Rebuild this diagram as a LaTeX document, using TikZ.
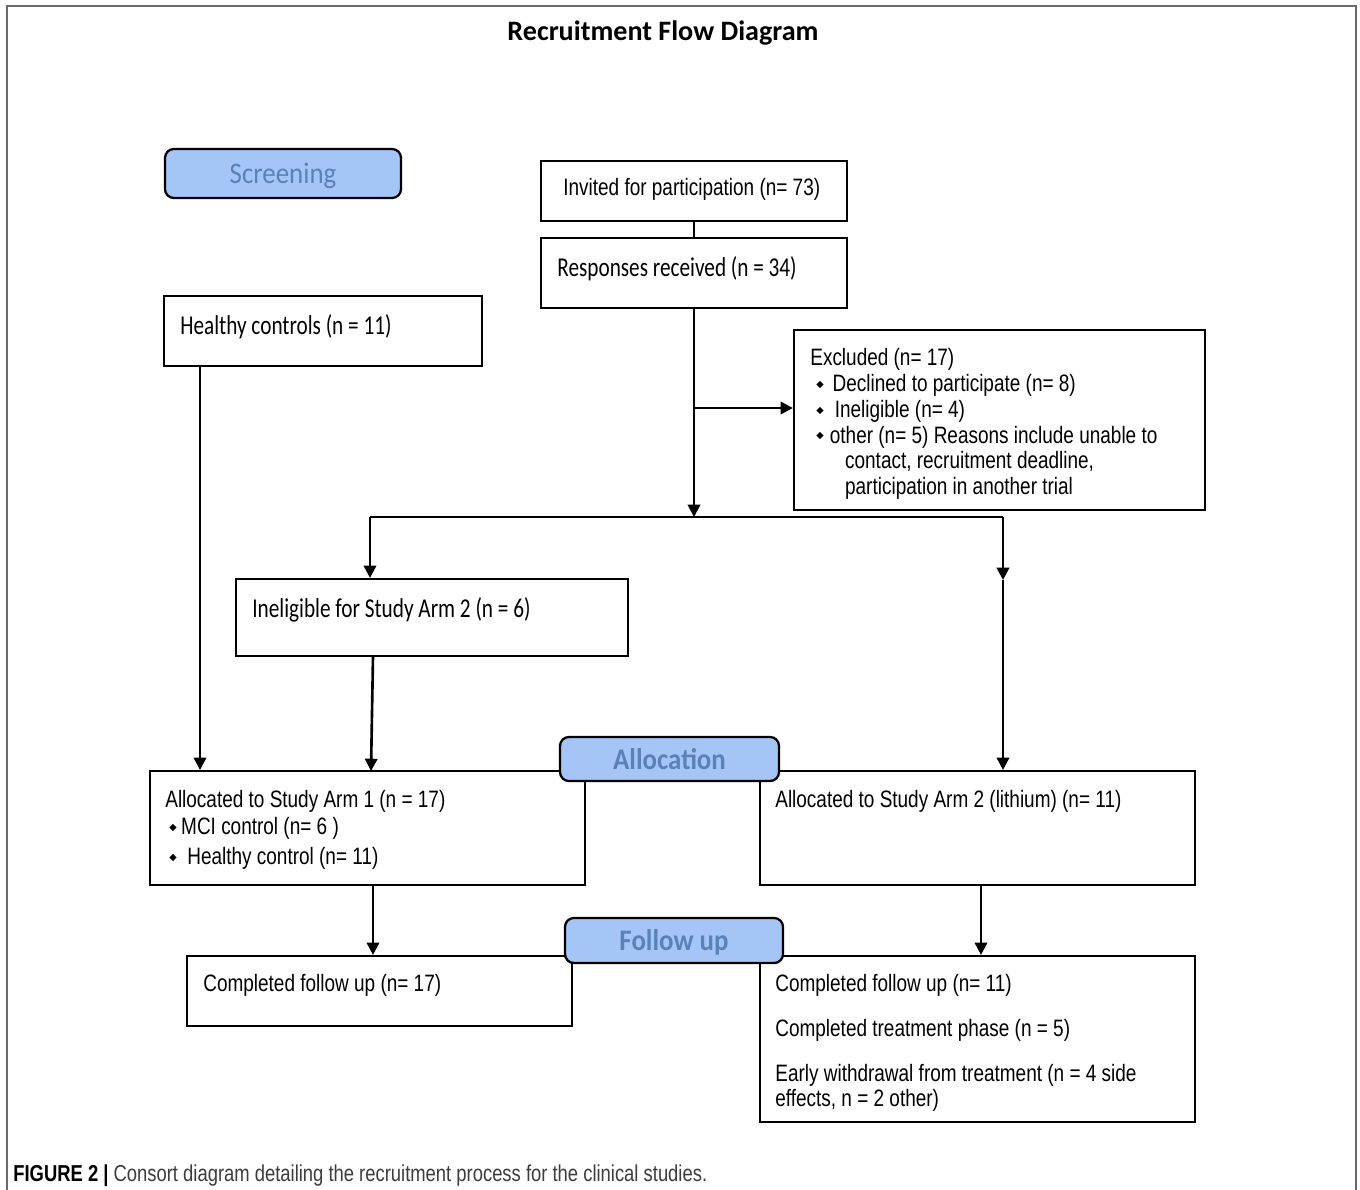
\documentclass[tikz,border=0pt]{standalone}
\usepackage{fontspec}
\setmainfont{Liberation Sans}
\newfontfamily\armfont[FakeStretch=0.8]{Liberation Sans}
\newfontfamily\calfont[FakeStretch=0.78]{Carlito}
\newfontfamily\badgefont[FakeStretch=0.9]{Carlito}
\newfontfamily\headfont{Carlito}
\newfontfamily\symfont{DejaVu Sans}
\usepackage{tikz}
\usetikzlibrary{arrows.meta,positioning,fit}
\definecolor{badgefill}{HTML}{A6C5F7}
\definecolor{badgetext}{HTML}{5A82B8}
\definecolor{framegray}{HTML}{6A6A6A}
\definecolor{captiongray}{HTML}{3C3C3C}
\newcommand{\bul}{\raisebox{2.3pt}{\symfont\fontsize{5.5}{5.5}\selectfont ◆}}
\tikzset{
  flowbox/.style={draw, rectangle, line width=1.2pt, inner sep=0pt},
  phasebadge/.style={draw, rectangle, rounded corners=5pt, line width=1.3pt, fill=badgefill, inner sep=0pt, text height=2.25ex, text depth=0pt, text=badgetext, font=\badgefont\fontsize{17}{20}\selectfont},
  armtext/.style={anchor=north west, inner sep=0pt, align=left, font=\armfont\fontsize{13.5}{14.7}\selectfont},
  caltext/.style={anchor=north west, inner sep=0pt, align=left, font=\calfont\fontsize{15.5}{18}\selectfont},
  flowarrow/.style={-{Triangle[length=7pt,width=7pt]}, line width=1.5pt},
  flowline/.style={line width=1.5pt}
}

\begin{document}
\begin{tikzpicture}[x=0.02cm, y=-0.02cm]
        \useasboundingbox (0,0) rectangle (1360,1190);
        % Outer frame and title
        \draw[framegray, line width=1pt] (7,1190) -- (7,6) -- (1356,6) -- (1356,1190);
        \node[font=\headfont\bfseries\fontsize{16}{19}\selectfont] (title) at (663,33) {Recruitment Flow Diagram};

        % Boxes, from their corners
        \node[flowbox, fit={(541,161) (847,221)}] (invited) {};
        \node[flowbox, fit={(541,238) (847,308)}] (responses) {};
        \node[flowbox, fit={(164,296) (482,366)}] (healthy) {};
        \node[flowbox, fit={(794,330) (1205,510)}] (excluded) {};
        \node[flowbox, fit={(236,579) (628,656)}] (inelig) {};
        \node[flowbox, fit={(150,771) (585,885)}] (arm1) {};
        \node[flowbox, fit={(760,771) (1195,885)}] (arm2) {};
        \node[flowbox, fit={(187,956) (572,1026)}] (done1) {};
        \node[flowbox, fit={(760,956) (1195,1122)}] (done2) {};

        % Box texts
        \node[armtext] (invitedtxt) at (563,178) {Invited for participation (n= 73)};
        \node[caltext] (responsestxt) at (557,256) {Responses received (n = 34)};
        \node[caltext] (healthytxt) at (180,314) {Healthy controls (n = 11)};
        \node[armtext] (excludedtxt) at (810,348) {Excluded (n= 17)\\
            \hspace*{3.4pt}\bul\hspace{5.1pt}Declined to participate (n= 8)\\
            \hspace*{3.4pt}\bul\hspace{6.3pt}Ineligible (n= 4)\\
            \hspace*{3.4pt}\bul\hspace{3.5pt}other (n= 5) Reasons include unable to\\
            \hspace*{19.8pt}contact, recruitment deadline,\\
            \hspace*{19.8pt}participation in another trial};
        \node[caltext] (ineligtxt) at (252,597) {Ineligible for Study Arm 2 (n = 6)};
        \node[armtext] (arm1txt) at (165,790) {Allocated to Study Arm 1 (n = 17)\\[0.6pt]
            \hspace*{2.3pt}\bul\hspace{2.5pt}MCI control (n= 6 )\\[2.3pt]
            \hspace*{2.3pt}\bul\hspace{6pt}Healthy control (n= 11)};
        \node[armtext] (arm2txt) at (775,790) {Allocated to Study Arm 2 (lithium) (n= 11)};
        \node[armtext] (done1txt) at (203,974) {Completed follow up (n= 17)};
        \node[armtext] (done2txt) at (775,974) {Completed follow up (n= 11)\\[10.8pt]
            Completed treatment phase (n = 5)\\[10.8pt]
            Early withdrawal from treatment (n = 4 side\\
            effects, n = 2 other)};

        % Junction points
        \coordinate (split) at (694,517);
        \coordinate (splitL) at (370,517);
        \coordinate (splitR) at (1003,517);
        \coordinate (midR) at (1003,580);
        \coordinate (exbranch) at (694,408);
        \coordinate (hcdrop) at (200,366);
        \coordinate (ineldrop) at (373,656);
        \coordinate (arm1in) at (371,771);
        \coordinate (arm1out) at (373,885);
        \coordinate (arm2out) at (981,885);

        % Connectors
        \draw[flowline] (invited) -- (responses);
        \draw[flowarrow] (responses) -- (split);
        \draw[flowarrow] (exbranch) -- (exbranch -| excluded.west);
        \draw[flowline] (splitL) -- (splitR);
        \draw[flowarrow] (splitL) -- (splitL |- inelig.north);
        \draw[flowarrow] (splitR) -- (midR);
        \draw[flowarrow] (midR) -- (midR |- arm2.north);
        \draw[flowarrow] (hcdrop) -- (hcdrop |- arm1.north);
        \draw[flowarrow] (ineldrop) -- (arm1in);
        \draw[flowarrow] (arm1out) -- (arm1out |- done1.north);
        \draw[flowarrow] (arm2out) -- (arm2out |- done2.north);

        % Phase badges on top
        \node[phasebadge, minimum width=4.72cm, minimum height=0.98cm] (screening) at (283,173.5) {Screening};
        \node[phasebadge, minimum width=4.38cm, minimum height=0.88cm, font=\badgefont\bfseries\fontsize{17}{20}\selectfont] (allocation) at (669.5,759) {Allocation};
        \node[phasebadge, minimum width=4.36cm, minimum height=0.9cm, font=\badgefont\bfseries\fontsize{17}{20}\selectfont] (followup) at (674,940.5) {Follow up};

        % Caption
        \node[anchor=north west, inner sep=0pt, text=captiongray, font=\armfont\fontsize{13.1}{15}\selectfont] (caption) at (13,1164) {\textbf{\color{black}FIGURE 2 |} Consort diagram detailing the recruitment process for the clinical studies.};
    \end{tikzpicture}
\end{document}
